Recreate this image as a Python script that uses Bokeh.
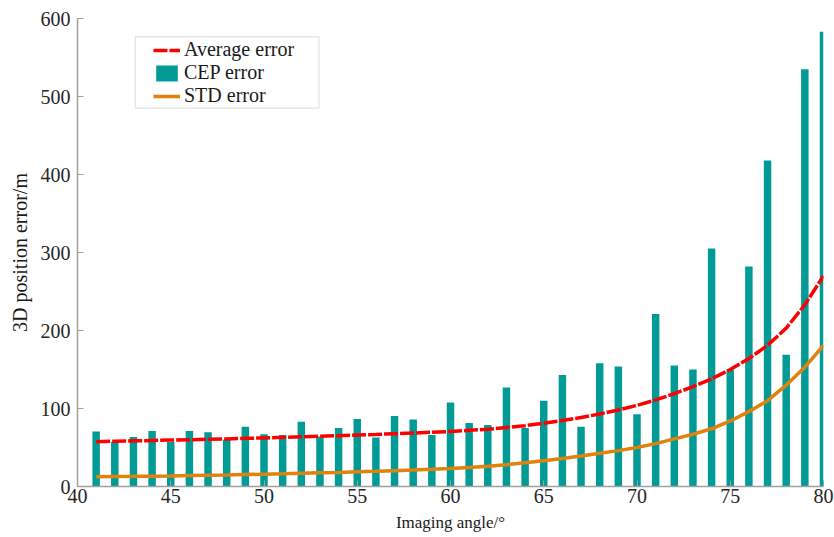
from bokeh.plotting import figure
from bokeh.models import ColumnDataSource, Range1d, FixedTicker, Legend, LegendItem, BoxAnnotation
from bokeh.embed import file_html
from bokeh.resources import INLINE

angles = list(range(41, 81))
cep_error = [70.5, 57.5, 63.5, 71, 57, 71, 69.7, 60, 76.6, 67,
             66, 83, 64, 75, 86.6, 62.8, 90.5, 86, 66, 107.8,
             81.4, 79, 127, 75, 110, 143, 76.6, 158, 154, 92.6,
             221, 155, 150, 305, 150, 282, 418, 169, 535, 583]
average_error = [57.5, 58, 58.5, 59, 59.5, 60, 60.5, 61, 61.7, 62.3,
                 63, 63.7, 64.4, 65.2, 66, 66.8, 67.7, 68.6, 69.5, 70.5,
                 72, 73.5, 75.5, 78, 81, 84.5, 88.5, 93, 98, 104,
                 111, 119, 128, 138, 150, 164, 181, 203, 233, 270]
std_error = [12.5, 12.8, 13, 13.3, 13.6, 14, 14.4, 14.8, 15.3, 15.8,
             16.3, 16.9, 17.5, 18.1, 18.8, 19.5, 20.3, 21.1, 22, 23,
             24.5, 26, 28, 30.5, 33, 36, 39, 42.5, 46, 50,
             55, 61, 67, 74, 84, 96, 110, 130, 153, 181]
x_ticks = [40, 45, 50, 55, 60, 65, 70, 75, 80]
y_ticks = [0, 100, 200, 300, 400, 500, 600]

src = ColumnDataSource(dict(x=angles, cep=cep_error, avg=average_error, std=std_error))

p = figure(width=834, height=535, output_backend="svg", toolbar_location=None,
           x_range=Range1d(40, 80), y_range=Range1d(0, 600),
           min_border_left=77, min_border_right=11, min_border_top=18, min_border_bottom=49)
p.outline_line_color = None
p.grid.visible = False
p.background_fill_color = "white"

bars = p.vbar(x="x", top="cep", width=0.4, bottom=0, source=src,
              fill_color="#009B96", line_color=None)
avg_line = p.line("x", "avg", source=src, line_color="#FF0000", line_width=3.5, line_dash="14 2")
std_line = p.line("x", "std", source=src, line_color="#E0820C", line_width=3.5)

font = "Liberation Serif"
for ax in (p.xaxis[0], p.yaxis[0]):
    ax.axis_line_color = "#A0A0A0"
    ax.axis_line_width = 1.5
    ax.major_tick_line_color = "#A0A0A0"
    ax.major_tick_in = 6
    ax.major_tick_out = 0
    ax.minor_tick_line_color = None
    ax.major_label_text_font = font
    ax.major_label_text_font_size = "20px"
    ax.major_label_text_color = "#262626"
    ax.axis_label_text_font = font
    ax.axis_label_text_font_style = "normal"
    ax.axis_label_text_color = "#1a1a1a"

p.xaxis[0].ticker = FixedTicker(ticks=x_ticks)
p.yaxis[0].ticker = FixedTicker(ticks=y_ticks)
p.xaxis[0].axis_label = "Imaging angle/°"
p.yaxis[0].axis_label = "3D position error/m"
p.xaxis[0].axis_label_text_font_size = "17px"
p.yaxis[0].axis_label_text_font_size = "20px"
p.xaxis[0].major_label_standoff = 2
p.yaxis[0].major_label_standoff = 7
p.xaxis[0].axis_label_standoff = 7
p.yaxis[0].axis_label_standoff = 7

# legend frame (MATLAB-style wide horizontal padding)
legend_box = BoxAnnotation(left=43.1, right=52.95, top=576.5, bottom=485,
                           fill_color="white", fill_alpha=1.0,
                           line_color="#A0A0A0", line_width=1.2)
p.add_layout(legend_box)

legend = Legend(items=[
    LegendItem(label="Average error", renderers=[avg_line]),
    LegendItem(label="CEP error", renderers=[bars]),
    LegendItem(label="STD error", renderers=[std_line]),
], location=(76, 379))
legend.label_text_font = font
legend.label_text_font_size = "20px"
legend.label_text_color = "#1a1a1a"
legend.glyph_width = 27
legend.glyph_height = 20
legend.label_height = 21
legend.spacing = 0
legend.padding = 2
legend.margin = 0
legend.label_standoff = 4
legend.border_line_color = None
legend.background_fill_alpha = 0
p.add_layout(legend, "center")

open("out.html", "w").write(file_html(p, INLINE))
